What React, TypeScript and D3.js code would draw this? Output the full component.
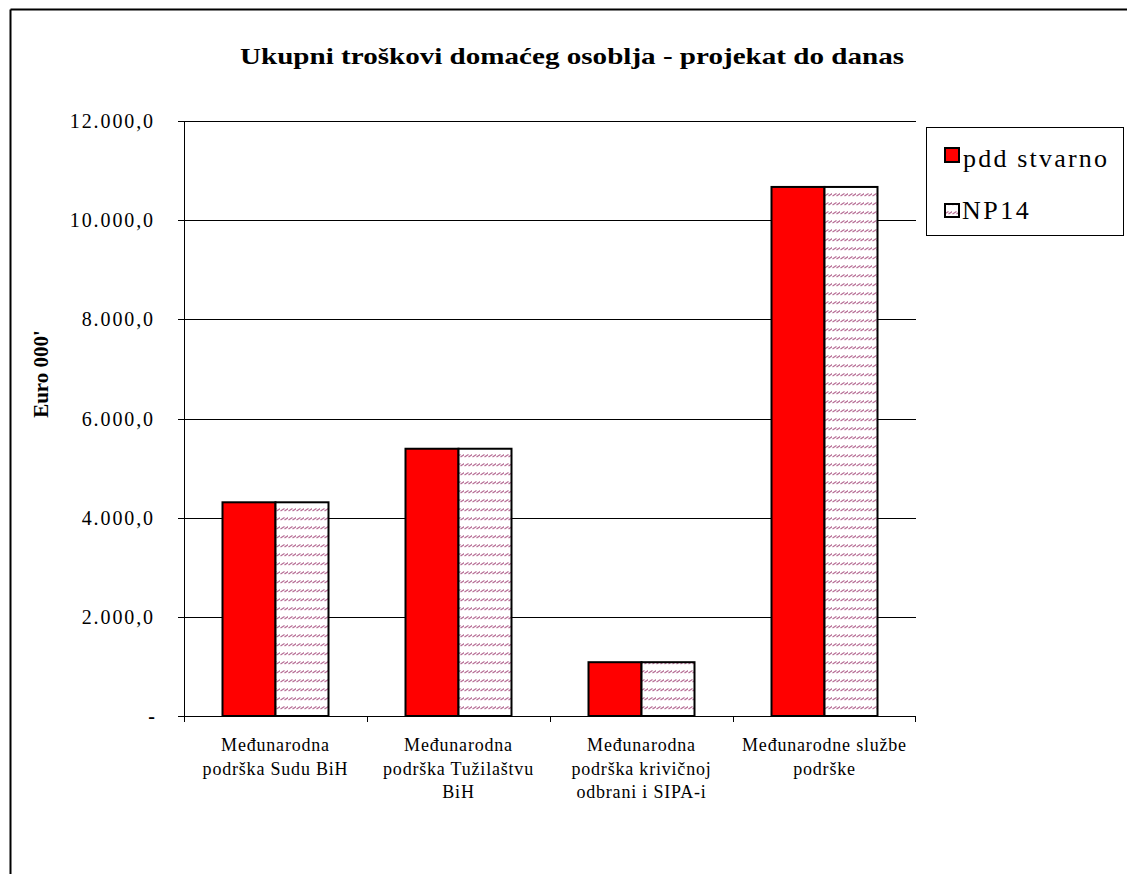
import React from "react";
import * as d3 from "d3";

const categories: string[][] = [
  ["Međunarodna", "podrška Sudu BiH"],
  ["Međunarodna", "podrška Tužilaštvu", "BiH"],
  ["Međunarodna", "podrška krivičnoj", "odbrani i SIPA-i"],
  ["Međunarodne službe", "podrške"],
];
const seriesNames = ["pdd stvarno", "NP14"];
const pddStvarno = [4310, 5390, 1085, 10670];
const np14 = [4310, 5390, 1085, 10670];
const yTicks = [0, 2000, 4000, 6000, 8000, 10000, 12000];

const W = 1127;
const H = 874;
const plot = { left: 184, right: 916, top: 121, bottom: 716 };
const serifStyle = { fontFamily: '"Liberation Serif", Tinos, "Times New Roman", serif' };

function fmt(v: number): string {
  if (v === 0) return "-";
  const s = d3.format(",.1f")(v);
  return s.replace(/,/g, "#").replace(/\./g, ",").replace(/#/g, ".");
}

export default function App() {
  const x = d3
    .scaleBand<number>()
    .domain(categories.map((_, i) => i))
    .range([plot.left, plot.right])
    .paddingInner(0)
    .paddingOuter(0);
  const y = d3.scaleLinear().domain([0, 12000]).range([plot.bottom, plot.top]);
  const bw = x.bandwidth();
  const barW = 53;
  const groupOff = (bw - 2 * barW) / 2;

  return (
    <svg
      width={W}
      height={H}
      style={{ position: "absolute", left: 0, top: 0, background: "#fff", ...serifStyle }}
    >
      <defs>
        <pattern id="hatch" patternUnits="userSpaceOnUse" width="8" height="9">
          <rect width="8" height="9" fill="#fff" />
          <line x1="0.5" y1="7" x2="4.5" y2="4.5" stroke="#b56a93" strokeWidth="1.2" />
          <line x1="4.5" y1="7" x2="8.5" y2="4.5" stroke="#b56a93" strokeWidth="1.2" />
        </pattern>
      </defs>
      {/* outer frame */}
      <line x1={10.5} y1={9.5} x2={W} y2={9.5} stroke="#000" strokeWidth={2} />
      <line x1={10.5} y1={9.5} x2={10.5} y2={H} stroke="#000" strokeWidth={2} />

      {/* title */}
      <text
        x={572}
        y={64}
        textAnchor="middle"
        style={serifStyle}
        fontWeight="bold"
        fontSize={24}
        textLength={664}
        lengthAdjust="spacingAndGlyphs"
      >
        Ukupni troškovi domaćeg osoblja - projekat do danas
      </text>

      {/* gridlines and y ticks */}
      {yTicks.map((t) => (
        <g key={t}>
          {t > 0 && (
            <line
              x1={plot.left}
              x2={plot.right}
              y1={Math.round(y(t)) + 0.5}
              y2={Math.round(y(t)) + 0.5}
              stroke="#000"
              strokeWidth={1}
            />
          )}
          <line
            x1={plot.left - 6}
            x2={plot.left}
            y1={Math.round(y(t)) + 0.5}
            y2={Math.round(y(t)) + 0.5}
            stroke="#000"
          />
          <text
            x={155}
            y={y(t) + 7}
            textAnchor="end"
            style={serifStyle}
            fontSize={20}
            letterSpacing={t === 0 ? 0 : 1.9}
            fontWeight={t === 0 ? "bold" : "normal"}
          >
            {fmt(t)}
          </text>
        </g>
      ))}

      {/* y axis line */}
      <line
        x1={plot.left + 0.5}
        x2={plot.left + 0.5}
        y1={plot.top}
        y2={plot.bottom}
        stroke="#000"
      />

      {/* y axis title */}
      <text
        transform={`translate(48,${374}) rotate(-90)`}
        textAnchor="middle"
        style={serifStyle}
        fontWeight="bold"
        fontSize={21}
      >
        Euro 000'
      </text>

      {/* bars */}
      {categories.map((_, i) => {
        const x0 = (x(i) as number) + groupOff;
        return (
          <g key={i}>
            <rect
              x={x0}
              y={y(pddStvarno[i])}
              width={barW}
              height={y(0) - y(pddStvarno[i])}
              fill="#ff0000"
              stroke="#000"
              strokeWidth={2}
            />
            <rect
              x={x0 + barW}
              y={y(np14[i])}
              width={barW}
              height={y(0) - y(np14[i])}
              fill="url(#hatch)"
              stroke="#000"
              strokeWidth={2}
            />
          </g>
        );
      })}

      {/* x axis */}
      <line
        x1={plot.left}
        x2={plot.right}
        y1={plot.bottom + 0.5}
        y2={plot.bottom + 0.5}
        stroke="#000"
      />
      {categories.map((_, i) => (
        <line
          key={"t" + i}
          x1={Math.round(x(i) as number) + 0.5}
          x2={Math.round(x(i) as number) + 0.5}
          y1={plot.bottom}
          y2={plot.bottom + 6}
          stroke="#000"
        />
      ))}
      <line
        x1={plot.right - 0.5}
        x2={plot.right - 0.5}
        y1={plot.bottom}
        y2={plot.bottom + 6}
        stroke="#000"
      />

      {/* x labels */}
      {categories.map((lines, i) => (
        <text
          key={"l" + i}
          x={(x(i) as number) + bw / 2}
          textAnchor="middle"
          style={serifStyle}
          fontSize={18}
          letterSpacing={0.8}
        >
          {lines.map((ln, j) => (
            <tspan key={j} x={(x(i) as number) + bw / 2} y={751 + j * 23.5}>
              {ln}
            </tspan>
          ))}
        </text>
      ))}

      {/* legend */}
      <rect x={926.5} y={127.5} width={197} height={108} fill="#fff" stroke="#000" strokeWidth={1} />
      <rect x={945} y={148} width={14} height={14} fill="#ff0000" stroke="#000" strokeWidth={2} />
      <text x={963} y={167} style={serifStyle} fontSize={26} letterSpacing={2.2}>
        {seriesNames[0]}
      </text>
      <rect x={945} y={204} width={14} height={13} fill="url(#hatch)" stroke="#000" strokeWidth={2} />
      <text x={962} y={219} style={serifStyle} fontSize={26} letterSpacing={2.5}>
        {seriesNames[1]}
      </text>
    </svg>
  );
}
